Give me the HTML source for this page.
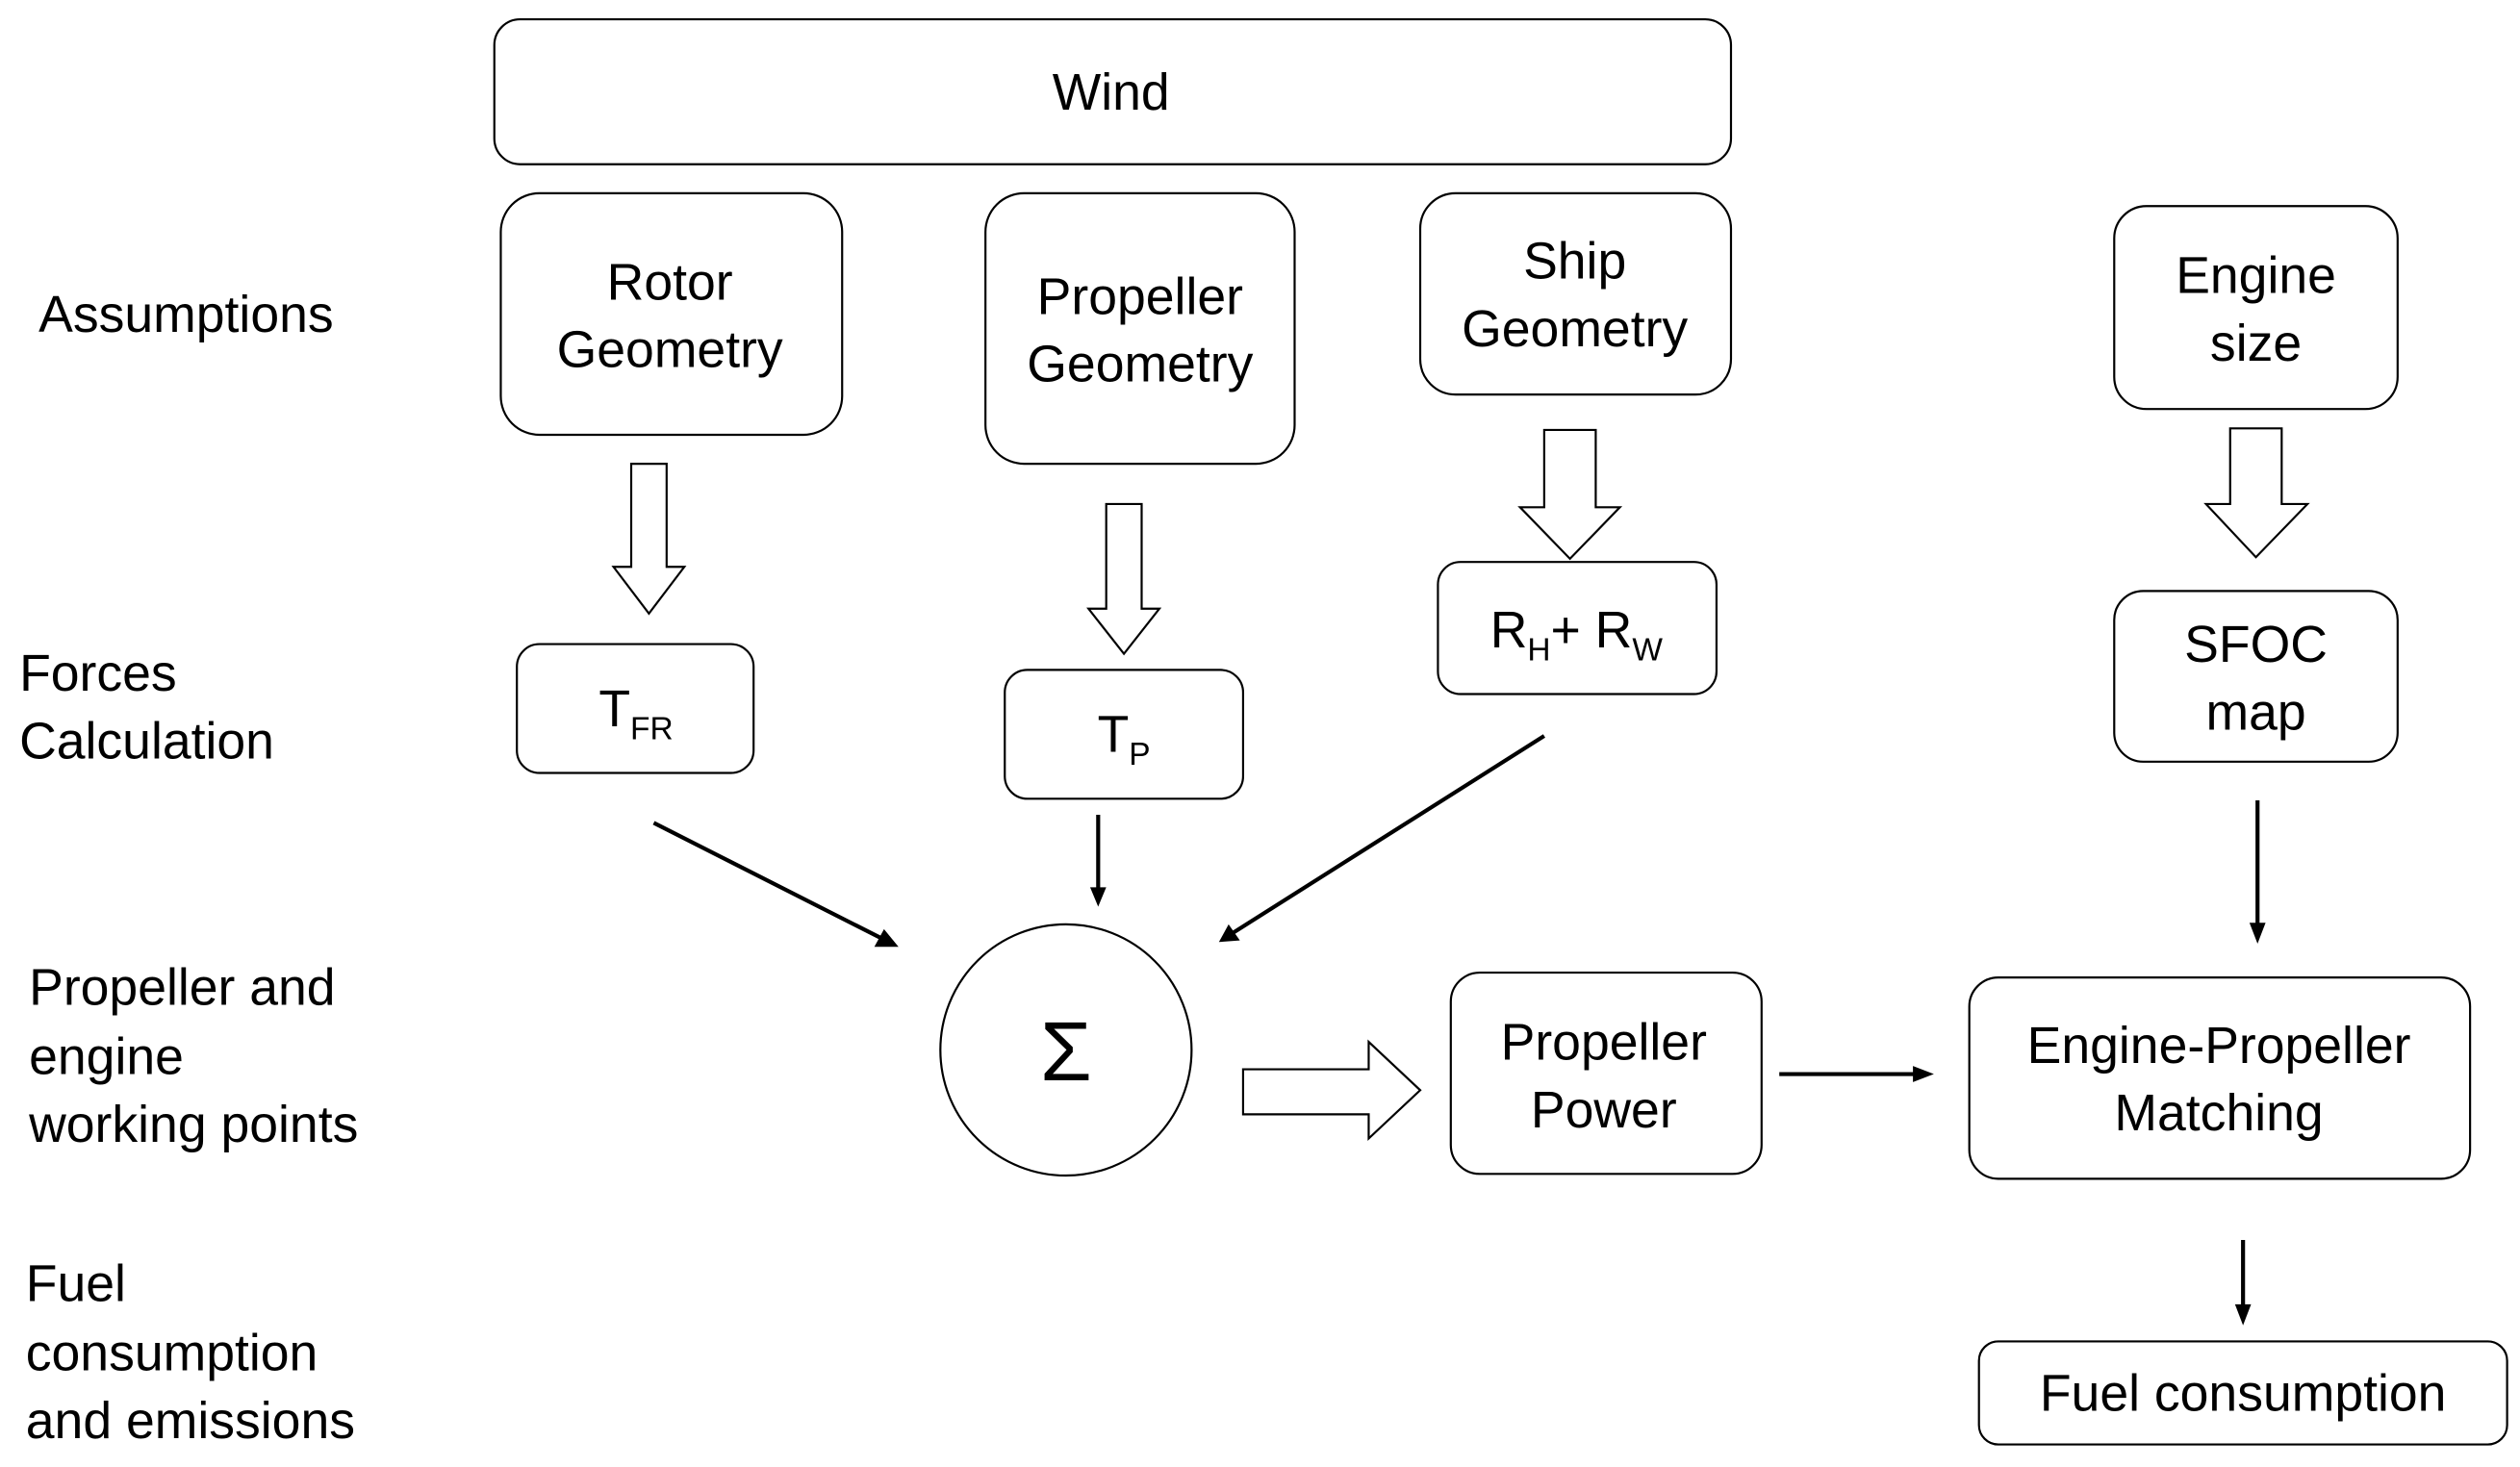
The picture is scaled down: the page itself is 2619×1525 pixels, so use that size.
<!DOCTYPE html>
<html><head><meta charset="utf-8"><style>
html,body{margin:0;padding:0;background:#fff;}
svg{display:block;}
text{font-family:"Liberation Sans",sans-serif;font-size:32px;fill:#000;}
</style></head><body>
<svg width="2619" height="1525" viewBox="0 0 1565 911" preserveAspectRatio="none" xmlns="http://www.w3.org/2000/svg">
<g fill="none" stroke="#000" stroke-width="1.3">
<rect x="307" y="12" width="768" height="90" rx="16"/>
<rect x="311" y="120" width="212" height="150" rx="24"/>
<rect x="612" y="120" width="192" height="168" rx="24"/>
<rect x="882" y="120" width="193" height="125" rx="22"/>
<rect x="1313" y="128" width="176" height="126" rx="20"/>
<rect x="321" y="400" width="147" height="80" rx="14"/>
<rect x="624" y="416" width="148" height="80" rx="14"/>
<rect x="893" y="349" width="173" height="82" rx="14"/>
<rect x="1313" y="367" width="176" height="106" rx="18"/>
<rect x="901" y="604" width="193" height="125" rx="18"/>
<rect x="1223" y="607" width="311" height="125" rx="18"/>
<rect x="1229" y="833" width="328" height="64" rx="12"/>
<circle cx="662" cy="652" r="78"/>
<path d="M392,288 L414,288 L414,352 L425,352 L403,381 L381,352 L392,352 Z"/>
<path d="M687,313 L709,313 L709,378 L720,378 L698,406 L676,378 L687,378 Z"/>
<path d="M959,267 L991,267 L991,315 L1006,315 L975,347 L944,315 L959,315 Z"/>
<path d="M1385,266 L1417,266 L1417,313 L1433,313 L1401,346 L1370,313 L1385,313 Z"/>
<path d="M772,664 L850,664 L850,647 L882,677 L850,707 L850,692 L772,692 Z"/>
</g>
<g stroke="#000" stroke-width="2.5" fill="none">
<line x1="406" y1="511" x2="552" y2="585"/>
<line x1="682" y1="506" x2="682" y2="556"/>
<line x1="959" y1="457" x2="763" y2="581"/>
<line x1="1402" y1="497" x2="1402" y2="578"/>
<line x1="1105" y1="667" x2="1193" y2="667"/>
<line x1="1393" y1="770" x2="1393" y2="815"/>
</g>
<g fill="#000">
<path d="M558,588 L543,588 L549,577 Z"/>
<path d="M682,563 L677,551 L687,551 Z"/>
<path d="M757,585 L763,574 L770,584 Z"/>
<path d="M1402,586 L1397,573 L1407,573 Z"/>
<path d="M1201,667 L1188,662 L1188,672 Z"/>
<path d="M1393,823 L1388,810 L1398,810 Z"/>
</g>
<g text-anchor="middle">
<text x="690" y="68">Wind</text>
<text x="416" y="186">Rotor</text>
<text x="416" y="228">Geometry</text>
<text x="708" y="195">Propeller</text>
<text x="708" y="237">Geometry</text>
<text x="978" y="173">Ship</text>
<text x="978" y="215">Geometry</text>
<text x="1401" y="182">Engine</text>
<text x="1401" y="224">size</text>
<text x="1401" y="411">SFOC</text>
<text x="1401" y="453">map</text>
<text x="996" y="658">Propeller</text>
<text x="996" y="700">Power</text>
<text x="1378" y="660">Engine-Propeller</text>
<text x="1378" y="702">Matching</text>
<text x="1393" y="876">Fuel consumption</text>
<text x="395" y="451">T<tspan style="font-size:20px" dy="8">FR</tspan></text>
<text x="698" y="467">T<tspan style="font-size:20px" dy="8">P</tspan></text>
<text x="979" y="402">R<tspan style="font-size:20px" dy="8">H</tspan><tspan dy="-8">+ R</tspan><tspan style="font-size:20px" dy="8">W</tspan></text>
<text x="662" y="671" style="font-size:52px">Σ</text>
</g>
<g>
<text x="24" y="206">Assumptions</text>
<text x="12" y="429">Forces</text>
<text x="12" y="471">Calculation</text>
<text x="18" y="624">Propeller and</text>
<text x="18" y="667">engine</text>
<text x="18" y="709">working points</text>
<text x="16" y="808">Fuel</text>
<text x="16" y="851">consumption</text>
<text x="16" y="893">and emissions</text>
</g>
</svg>
</body></html>
